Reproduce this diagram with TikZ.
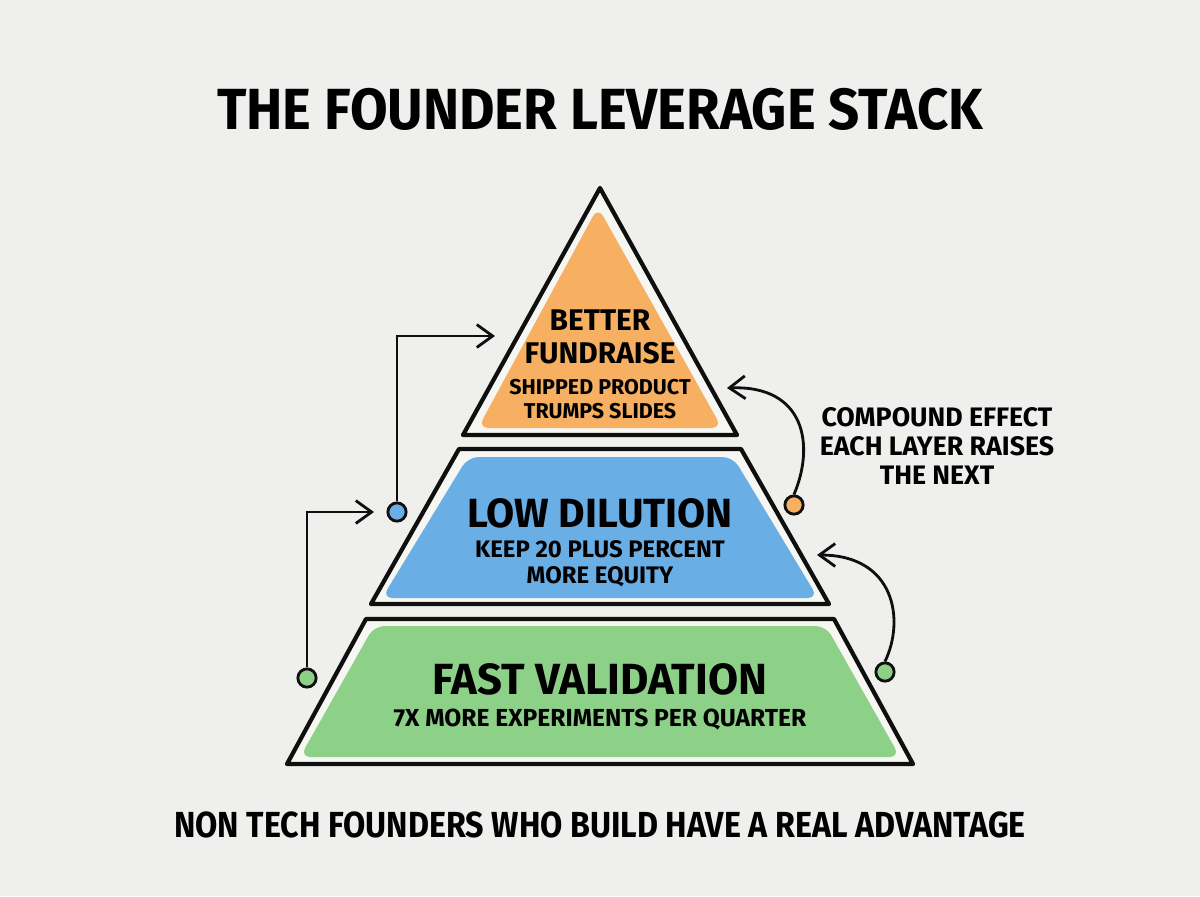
\documentclass[tikz,border=0pt]{standalone}
\usepackage{fontspec}
\setmainfont{Fira Sans}
\usetikzlibrary{arrows.meta}
\definecolor{bgc}{RGB}{239,239,237}
\definecolor{paper}{RGB}{246,246,243}
\definecolor{orangefill}{RGB}{247,176,98}
\definecolor{bluefill}{RGB}{106,174,230}
\definecolor{greenfill}{RGB}{141,208,135}
\definecolor{ink}{RGB}{15,15,15}

\begin{document}
\begin{tikzpicture}[x=0.01cm,y=-0.01cm,layer/.style={draw=ink,line width=1.2pt,line join=round,fill=paper},blob/.style={rounded corners=3pt},head/.style={font=\bfseries\fontsize{12}{14}\selectfont,inner sep=0,align=center},sub/.style={font=\bfseries\fontsize{6.8}{7.4}\selectfont,inner sep=0,align=center},dot/.style={circle,draw=ink,line width=0.8pt,minimum size=5.2pt,inner sep=0},conn/.style={draw=ink,line width=0.8pt,-{Straight Barb[length=4.5pt,width=6.5pt]}}]
\useasboundingbox[fill=bgc] (0,0) rectangle (1200,896);
\node[font=\bfseries\fontsize{16.5}{18}\selectfont,inner sep=0] (title) at (600,109) {\scalebox{0.94}[1]{THE FOUNDER LEVERAGE STACK}};
% the three layers
\path[layer] (600,188)--(737,435)--(463,435)--cycle;
\fill[orangefill,blob] (598,207)--(722,428)--(478,428)--cycle;
\path[layer] (459,449)--(741,449)--(829,604)--(371,604)--cycle;
\fill[bluefill,blob] (468,457)--(733,457)--(818,598)--(382,598)--cycle;
\path[layer] (366,619)--(834,619)--(913,764)--(287,764)--cycle;
\fill[greenfill,blob] (374,626)--(826,626)--(900,757)--(300,757)--cycle;
\node[head,font=\bfseries\fontsize{8.5}{9.4}\selectfont] (topHead) at (600,337) {BETTER\\FUNDRAISE};
\node[sub,font=\bfseries\fontsize{6.1}{6.8}\selectfont] (topSub) at (600,399) {SHIPPED PRODUCT\\TRUMPS SLIDES};
\node[head,font=\bfseries\fontsize{11.6}{14}\selectfont] (midHead) at (600,513) {LOW DILUTION};
\node[sub] (midSub) at (600,564) {KEEP 20 PLUS PERCENT\\MORE EQUITY};
\node[head,font=\bfseries\fontsize{12.4}{14}\selectfont] (botHead) at (600,679) {FAST VALIDATION};
\node[sub,font=\bfseries\fontsize{7}{8}\selectfont] (botSub) at (600,720) {7X MORE EXPERIMENTS PER QUARTER};
% connectors
\node[dot,fill=bluefill] (dotMid) at (397,512) {};
\node[dot,fill=greenfill] (dotBotL) at (307,678) {};
\node[dot,fill=orangefill] (dotTopR) at (794,505) {};
\node[dot,fill=greenfill] (dotBotR) at (885,672) {};
\coordinate (tipTop) at (495,336);
\coordinate (tipMid) at (374,512);
\coordinate (tipTopR) at (727,388);
\coordinate (tipMidR) at (817,555);
\draw[conn] (dotMid.north) |- (tipTop);
\draw[conn] (dotBotL.north) |- (tipMid);
\draw[conn] (dotTopR.north) .. controls (815,445) and (805,385) .. (tipTopR);
\draw[conn] (dotBotR.north) .. controls (905,620) and (895,555) .. (tipMidR);
\node[sub,font=\bfseries\fontsize{7.6}{8.25}\selectfont] (compound) at (937,446) {COMPOUND EFFECT\\EACH LAYER RAISES\\THE NEXT};
\node[font=\bfseries\fontsize{10.3}{12}\selectfont,inner sep=0] (footer) at (600,825) {\scalebox{0.89}[1]{NON TECH FOUNDERS WHO BUILD HAVE A REAL ADVANTAGE}};
\end{tikzpicture}
\end{document}
